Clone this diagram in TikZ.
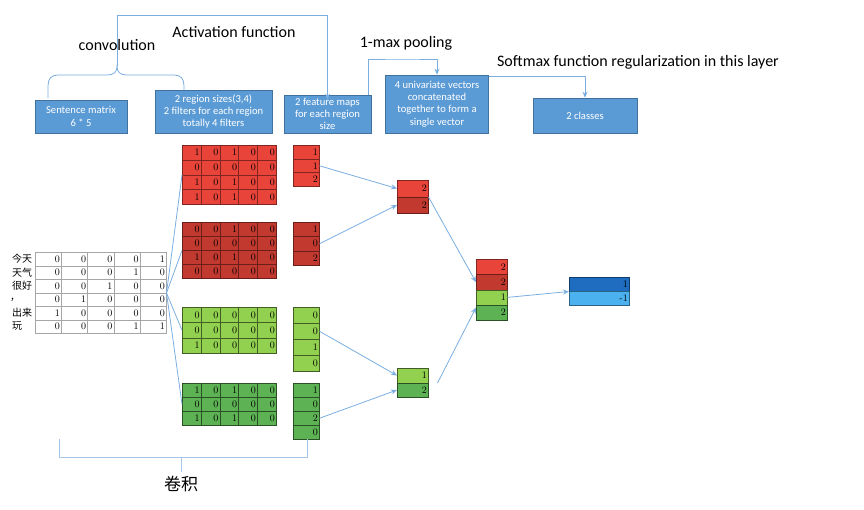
\documentclass[tikz,border=0pt]{standalone}
\usepackage{fontspec}
\setsansfont{Carlito}
\newfontfamily\cjk{Noto Sans CJK SC}
\usetikzlibrary{arrows.meta,calc}
\definecolor{boxblue}{HTML}{5B9BD5}
\definecolor{boxedge}{HTML}{41719C}
\definecolor{lineblue}{HTML}{7AAEE0}
\definecolor{braceblue}{HTML}{A8C6E8}
\definecolor{redA}{HTML}{E8443A}
\definecolor{redB}{HTML}{C2392F}
\definecolor{greenA}{HTML}{92D050}
\definecolor{greenB}{HTML}{5DB354}
\definecolor{blueA}{HTML}{1F6DC0}
\definecolor{blueB}{HTML}{4BB2EF}
\newcommand\mygrid[7]{%
  \pgfmathsetmacro\mytw{#4-3}%
  \foreach \row [count=\i] in {#7} {%
    \foreach \v [count=\j] in \row {%
      \node[gcell,#6,minimum width=#4pt,minimum height=#5pt,text width=\mytw pt]
        (#1-\i-\j) at ({#2+(\j-1)*#4},{#3+(\i-1)*#5}) {\v};
    }%
  }%
}
\begin{document}
\begin{tikzpicture}[x=1pt,y=-1pt,
  gcell/.style={anchor=north west,align=right,inner xsep=1.5pt,inner ysep=0pt,
    font=\fontsize{10}{10}\selectfont,line width=0.5pt},
  wcell/.style={fill=white,draw=gray!70},
  rcellA/.style={fill=redA,draw=redA!55!black},
  rcellB/.style={fill=redB,draw=redB!55!black},
  gcellA/.style={fill=greenA,draw=greenA!45!black},
  gcellB/.style={fill=greenB,draw=greenB!45!black},
  bcellA/.style={fill=blueA,draw=blueA!55!black},
  bcellB/.style={fill=blueB,draw=blueB!55!black},
  infobox/.style={fill=boxblue,draw=boxedge,line width=0.6pt,text=white,align=center,
    font=\sffamily\fontsize{10.6}{12.4}\selectfont,inner sep=1pt},
  title/.style={font=\sffamily\fontsize{16}{18}\selectfont},
  conn/.style={draw=lineblue,line width=0.8pt},
  arr/.style={conn,-{Stealth[length=6pt,width=5pt]}},
  rowlab/.style={anchor=west,font=\cjk\fontsize{10}{10}\selectfont,inner sep=0pt}
]
\useasboundingbox (0,0) rectangle (864,509);

% info boxes
\node[infobox,minimum width=92pt,minimum height=33pt] (sm) at (81,116.5) {Sentence matrix\\6 * 5};
\node[infobox,minimum width=117pt,minimum height=43pt] (rs) at (213.5,111.5) {2 region sizes(3,4)\\2 filters for each region\\totally 4 filters};
\node[infobox,minimum width=87pt,minimum height=38pt] (fm) at (327.5,114) {2 feature maps\\for each region\\size};
\node[infobox,minimum width=103pt,minimum height=58pt] (uv) at (437,104) {4 univariate vectors\\concatenated\\together to form a\\single vector};
\node[infobox,minimum width=104pt,minimum height=35pt] (cl) at (585,115.5) {2 classes};

% titles
\node[title] (tconv) at (117,45) {convolution};
\node[title] (tact) at (234,32) {Activation function};
\node[title] (tpool) at (406,43) {1-max pooling};
\node[title] (tsoft) at (638,62) {Softmax function regularization in this layer};

% top brace and connectors
\coordinate (bl) at (48,98);
\coordinate (br) at (184,90);
\coordinate (bt) at (117,66);
\coordinate (btop) at (117,15);
\draw[conn] (bl) -- (48,86) .. controls (48,79) and (51,75) .. (58,75) -- (107,75)
  .. controls (114,75) and (117,72) .. (bt)
  .. controls (117,72) and (120,75) .. (127,75) -- (174,75)
  .. controls (181,75) and (184,79) .. (184,86) -- (br);
\draw[arr] (bt) -- (btop) -| ($(fm.north)+(0,5)$);
\coordinate (fmtr) at (368,95);
\draw[arr] (fmtr) |- (402,59) -| (uv.north);
\draw[arr] ($(uv.north east)+(0,2)$) -| (cl.north);

% sentence matrix
\mygrid{s}{35}{252}{26.2}{13.5}{wcell}{{0,0,0,0,1},{0,0,0,1,0},{0,0,1,0,0},{0,1,0,0,0},{1,0,0,0,0},{0,0,0,1,1}}
\node[rowlab] (l1) at (12,258.75) {今天};
\node[rowlab] (l2) at (12,272.25) {天气};
\node[rowlab] (l3) at (12,285.75) {很好};
\node[rowlab] (l4) at (10,299.5) {，};
\node[rowlab] (l5) at (12,312.75) {出来};
\node[rowlab] (l6) at (12,326.25) {玩};

% filters
\mygrid{r1}{182}{145}{18.8}{14.75}{rcellA}{{1,0,1,0,0},{0,0,0,0,0},{1,0,1,0,0},{1,0,1,0,0}}
\mygrid{r2}{182}{222}{18.8}{14}{rcellB}{{0,0,1,0,0},{0,0,0,0,0},{1,0,1,0,0},{0,0,0,0,0}}
\mygrid{g1}{182}{307}{18.8}{15.3}{gcellA}{{0,0,0,0,0},{0,0,0,0,0},{1,0,0,0,0}}
\mygrid{g2}{182}{383}{18.8}{14}{gcellB}{{1,0,1,0,0},{0,0,0,0,0},{1,0,1,0,0}}

% feature maps
\mygrid{m1}{293}{145}{26}{13.7}{rcellA}{{1},{1},{2}}
\mygrid{m2}{293}{222}{26}{14.3}{rcellB}{{1},{0},{2}}
\mygrid{m3}{293}{307}{26}{16}{gcellA}{{0},{0},{1},{0}}
\mygrid{m4}{293}{383}{26}{14}{gcellB}{{1},{0},{2},{0}}

% pooled
\node[gcell,rcellA,minimum width=31pt,minimum height=16.5pt,text width=28pt] (p1) at (397,180) {2};
\node[gcell,rcellB,minimum width=31pt,minimum height=16.5pt,text width=28pt] (p2) at (397,196.5) {2};
\node[gcell,gcellA,minimum width=31pt,minimum height=14.5pt,text width=28pt] (p3) at (397,368) {1};
\node[gcell,gcellB,minimum width=31pt,minimum height=14.5pt,text width=28pt] (p4) at (397,382.5) {2};

% concatenated
\node[gcell,rcellA,minimum width=31pt,minimum height=15.25pt,text width=28pt] (c1) at (476,259) {2};
\node[gcell,rcellB,minimum width=31pt,minimum height=15.25pt,text width=28pt] (c2) at (476,274.25) {2};
\node[gcell,gcellA,minimum width=31pt,minimum height=15.25pt,text width=28pt] (c3) at (476,289.5) {1};
\node[gcell,gcellB,minimum width=31pt,minimum height=15.25pt,text width=28pt] (c4) at (476,304.75) {2};

% output
\node[gcell,bcellA,minimum width=60pt,minimum height=14pt,text width=57pt] (o1) at (569,277) {1};
\node[gcell,bcellB,minimum width=60pt,minimum height=14pt,text width=57pt] (o2) at (569,291) {-1};

% connectors
\draw[conn] (s-3-5.south east) -- (r1-2-1.south west);
\draw[conn] (s-3-5.south east) -- (r2-2-1.south west);
\draw[conn] (s-3-5.south east) -- (g1-2-1.west);
\draw[conn] (s-3-5.south east) -- (g2-2-1.west);
\draw[arr] (m1-2-1.east) -- (p1.west);
\draw[arr] (m2-2-1.east) -- (p2.west);
\draw[arr] (m3-2-1.east) -- (p3.west);
\draw[arr] (m4-3-1.east) -- (p4.west);
\draw[arr] (p1.south east) -- (c2.west);
\coordinate (gstart) at ($(p3.south east)+(9,0)$);
\draw[arr] (gstart) -- ($(c4.west)+(0,-5)$);
\draw[arr] (c3.east) -- (o1.south west);

% bottom brace
\coordinate (bb1) at (59,439);
\coordinate (bb2) at (307,439);
\coordinate (bbm) at (181,472);
\draw[draw=braceblue,line width=0.8pt] (bb1) -- (59,457) -- (307,457) -- (bb2);
\draw[draw=braceblue,line width=0.8pt] (181,457) -- (bbm);
\node[font=\cjk\fontsize{17}{17}\selectfont] (jj) at (181,484) {卷积};
\end{tikzpicture}
\end{document}
